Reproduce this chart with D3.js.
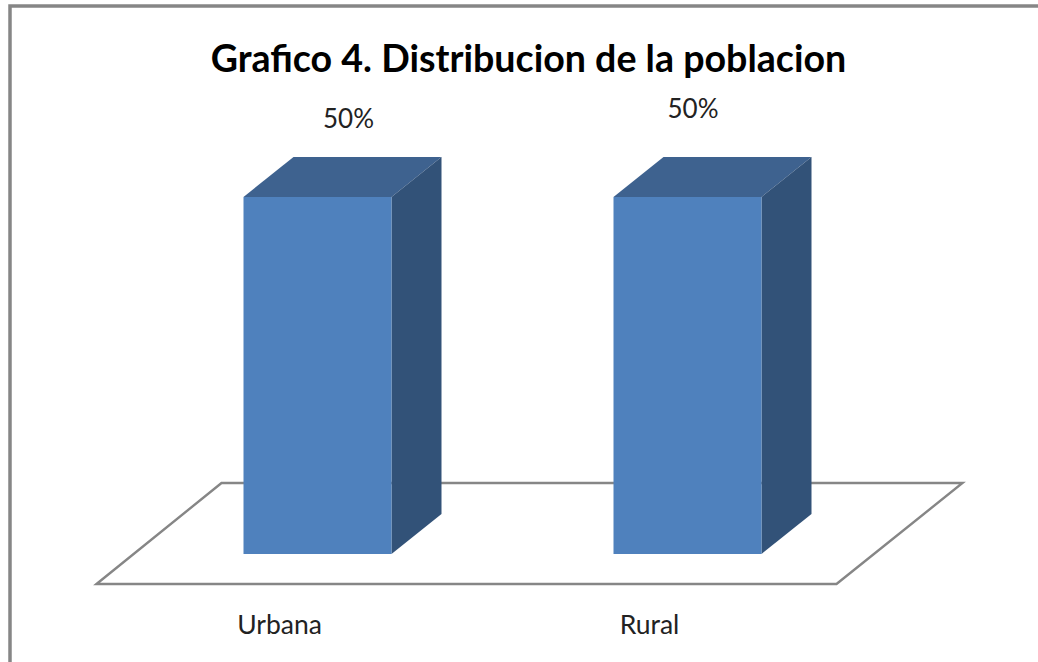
<!DOCTYPE html>
<html><head><meta charset="utf-8">
<script src="https://cdn.jsdelivr.net/npm/d3@7"></script>
<style>html,body{margin:0;padding:0;background:#fff}svg{display:block}text{font-family:Lato,"Open Sans",sans-serif}</style>
</head><body><div id="c"></div>
<script>
const titleText = "Grafico 4. Distribucion de la poblacion";
const categories = ["Urbana", "Rural"];
const values = [50, 50];

const W = 1038, H = 662;
const depthX = 50, depthY = 40;
const svg = d3.select("#c").append("svg").attr("width", W).attr("height", H);
const x = d3.scaleBand().domain(categories).range([132.5, 872.5]).paddingInner(0.6).paddingOuter(0.3);
const y = d3.scaleLinear().domain([0, 50]).range([554, 197]);
const grey = "#868686";

// outer frame (top and left edges)
svg.append("path").attr("d", "M10,662V6H1038").attr("fill", "none").attr("stroke", grey).attr("stroke-width", 3.5);

// floor
const y0 = y(0);
const x0 = x.range()[0];
const x1 = x.range()[1];
const floor = d3.path();
floor.moveTo(x0 - 36, y0 + 30);
floor.lineTo(x0 + 89, y0 - 71);
floor.lineTo(x1 + 90, y0 - 71);
floor.lineTo(x1 - 36, y0 + 30);
floor.closePath();
svg.append("path").attr("d", floor.toString()).attr("fill", "#fff").attr("stroke", grey).attr("stroke-width", 2.4);

// bars
const bars = svg.selectAll("g.bar").data(categories.map((c, i) => ({c, v: values[i]}))).join("g").attr("class", "bar");
bars.append("path").attr("fill", "#3E628F").attr("d", d => {
  const l = x(d.c), r = l + x.bandwidth(), t = y(d.v);
  return `M${l},${t}L${l + depthX},${t - depthY}H${r + depthX}L${r},${t}Z`;
});
bars.append("path").attr("fill", "#325278").attr("d", d => {
  const r = x(d.c) + x.bandwidth(), t = y(d.v);
  return `M${r},${t}L${r + depthX},${t - depthY}V${y0 - depthY}L${r},${y0}Z`;
});
bars.append("rect").attr("fill", "#4F81BD")
  .attr("x", d => x(d.c)).attr("y", d => y(d.v))
  .attr("width", x.bandwidth()).attr("height", d => y0 - y(d.v));

// value labels (hand-placed in the original, so each has its own nudge)
bars.append("text").attr("text-anchor", "middle").attr("font-size", 26).attr("fill", "#222")
  .attr("x", (d, i) => x(d.c) + x.bandwidth() / 2 + (i === 0 ? 31 : 5.5))
  .attr("y", (d, i) => y(d.v) - (i === 0 ? 69.5 : 79.5))
  .text(d => d.v + "%");

// category labels
bars.append("text").attr("text-anchor", "middle").attr("font-size", 26.5).attr("fill", "#222")
  .attr("x", d => x(d.c) + x.bandwidth() / 2 - 38)
  .attr("y", 633.5).text(d => d.c);

// title
svg.append("text").attr("x", 528.5).attr("y", 71.5).attr("text-anchor", "middle")
  .attr("font-size", 37.6).attr("font-weight", 700).attr("fill", "#000").text(titleText);
</script></body></html>
